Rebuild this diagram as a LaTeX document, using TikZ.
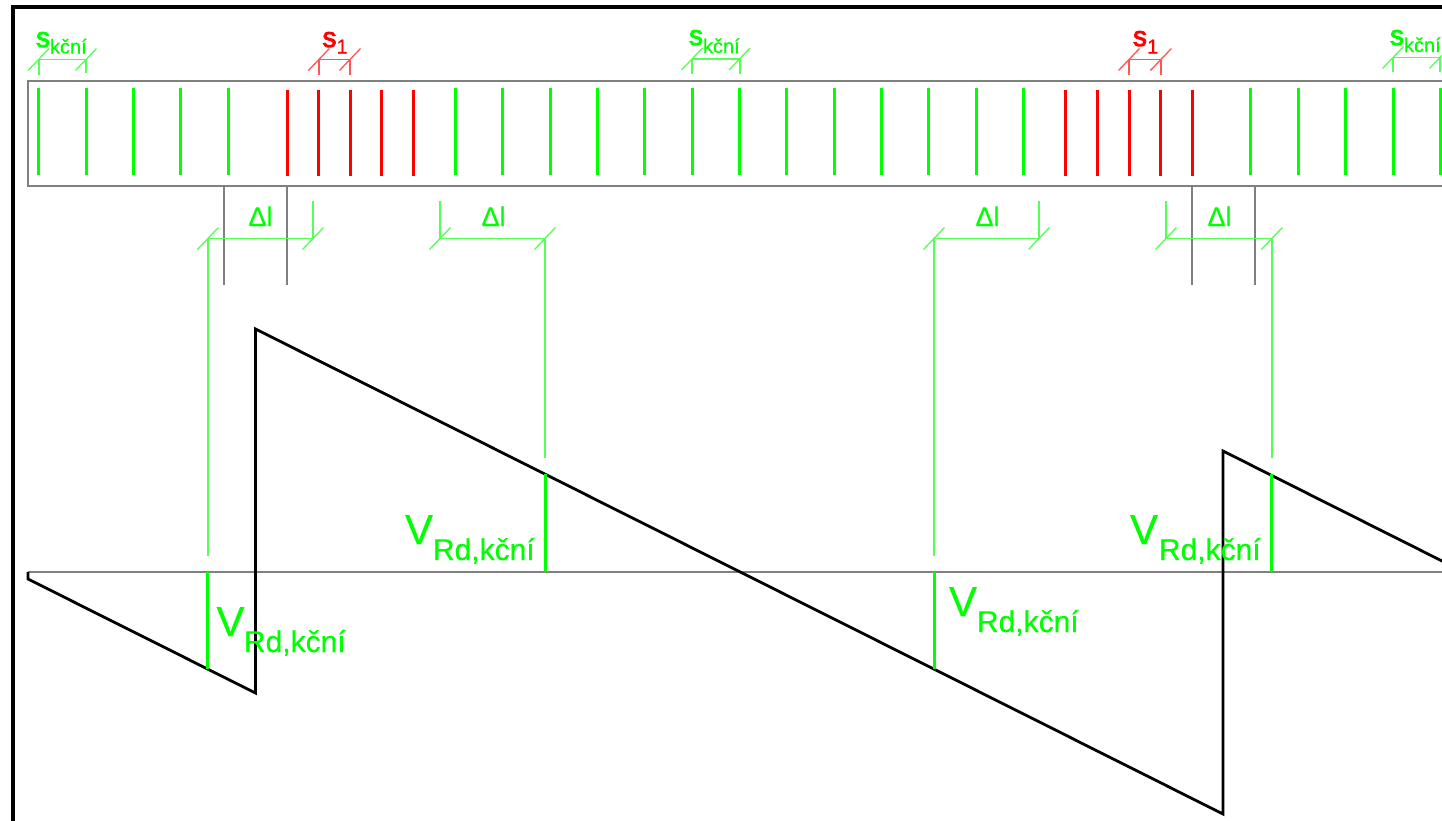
\documentclass[tikz,border=0pt]{standalone}
\usepackage{fontspec}
\setmainfont{Liberation Sans}
\newfontfamily\heavyfont[FakeBold=3]{Liberation Sans}
\newfontfamily\midfont[FakeBold=0.3]{Liberation Sans}
\definecolor{gr}{HTML}{00FF00}
\definecolor{lgr}{HTML}{55FF55}
\definecolor{rd}{HTML}{FF0000}
\definecolor{lrd}{HTML}{FF5555}
\definecolor{gy}{HTML}{808080}
\tikzset{
  frameline/.style={line width=4pt,black},
  outline/.style={line width=1.6pt,gy},
  greystub/.style={line width=1.5pt,gy},
  shear/.style={line width=2.8pt,black,line join=miter},
  stirg/.style={line width=3pt,gr},
  stirr/.style={line width=3pt,rd},
  dimg/.style={line width=1.3pt,lgr},
  dimr/.style={line width=1.3pt,lrd},
  vbar/.style={line width=3pt,gr},
  txt/.style={inner sep=0pt,outer sep=0pt,anchor=base west},
}
\newcommand{\dimgreen}[3]{% x1 x2 y
  \draw[dimg] (#1,#3) -- (#2,#3);
  \draw[dimg] (#1-10.5,#3+11) -- (#1+10.5,#3-11);
  \draw[dimg] (#2-10.5,#3+11) -- (#2+10.5,#3-11);
}
\newcommand{\dimred}[4]{%
  \draw[dimr] (#1,#3) -- (#2,#3);
  \draw[dimr] (#1-10.5,#3+11) -- (#1+10.5,#3-11);
  \draw[dimr] (#2-10.5,#3+11) -- (#2+10.5,#3-11);
  \draw[dimr] (#1,#3) -- (#1,#4);
  \draw[dimr] (#2,#3) -- (#2,#4);
}
\begin{document}
\begin{tikzpicture}[x=1pt,y=-1pt]
\useasboundingbox (0,0) rectangle (1442,820);
\clip (0,0) rectangle (1442,820);
\fill[white] (0,0) rectangle (1442,820);
% frame
\draw[frameline] (1450,7) -- (13,7) -- (13,830);
% beam
\draw[outline] (1450,81) -- (28,81) -- (28,186) -- (1450,186);
% stirrups
\foreach \x in {38.5,86,133.5,180.5,228,455,502.5,550,597,644.5,692,739.5,786.5,834,881,928.5,976,1023,1250.5,1298,1345.5,1393,1440}
  \draw[stirg] (\x,88) -- (\x,175);
\foreach \x in {287,318.5,350,381.5,413,1065.5,1097,1129,1160.5,1192}
  \draw[stirr] (\x,90) -- (\x,176);
% grey stubs
\foreach \x in {224,287,1192,1255}
  \draw[greystub] (\x,186) -- (\x,285);
% top dimensions
\dimgreen{38.5}{86}{59.5}
\draw[dimg] (38.9,59.5) -- (38.9,75) (86,59.5) -- (86,73);
\dimred{318.9}{350}{59.5}{75}
\dimgreen{692}{739.5}{59}
\draw[dimg] (692,59) -- (692,74) (739.9,59) -- (739.9,74);
\dimred{1129}{1160.9}{59.5}{75}
\dimgreen{1393}{1440}{57.5}
\draw[dimg] (1393,57.5) -- (1393,72) (1440,57.5) -- (1440,72);
% delta-l dimensions
\dimgreen{207.9}{313}{238.5}
\draw[dimg] (207.9,238.5) -- (207.9,556) (313,201) -- (313,238.5);
\dimgreen{440}{545}{238.5}
\draw[dimg] (440,201) -- (440,238.5) (545,238.5) -- (545,458);
\dimgreen{934}{1039}{238.5}
\draw[dimg] (934,238.5) -- (934,556) (1039,201) -- (1039,238.5);
\dimgreen{1166}{1271.9}{238.5}
\draw[dimg] (1166,201) -- (1166,238.5) (1271.9,238.5) -- (1271.9,458);
% zero line
\draw[outline] (28,572) -- (1450,572);
% shear diagram
\draw[shear] (28,572) -- (28,579) -- (255.5,693) -- (255.5,329) -- (1223,814) -- (1223,451) -- (1450,565);
% V bars
\draw[vbar] (207.5,572) -- (207.5,669);
\draw[vbar] (545,474) -- (545,572);
\draw[vbar] (934,572) -- (934,669);
\draw[vbar] (1271.5,474) -- (1271.5,572);
% labels
\newcommand{\fsS}{\heavyfont\fontsize{28}{28}\selectfont}
\newcommand{\fsSub}{\midfont\fontsize{20}{20}\selectfont}
\newcommand{\fsD}{\midfont\fontsize{27}{27}\selectfont}
\newcommand{\fsV}{\midfont\fontsize{42}{42}\selectfont}
\newcommand{\fsVs}{\midfont\fontsize{30}{30}\selectfont}
\node[txt,text=gr,font=\fsS] (s1) at (36,47) {s};
\node[txt,text=gr,font=\fsSub] (s1b) at (50,53.5) {kční};
\node[txt,text=rd,font=\fsS] (r1) at (322.5,47) {s};
\node[txt,text=rd,font=\fsSub] (r1b) at (336.5,53.5) {1};
\node[txt,text=gr,font=\fsS] (s2) at (689,45) {s};
\node[txt,text=gr,font=\fsSub] (s2b) at (703,53) {kční};
\node[txt,text=rd,font=\fsS] (r2) at (1133,46) {s};
\node[txt,text=rd,font=\fsSub] (r2b) at (1147.2,53.5) {1};
\node[txt,text=gr,font=\fsS] (s3) at (1390,45) {s};
\node[txt,text=gr,font=\fsSub] (s3b) at (1404,52) {kční};
\node[txt,text=gr,font=\fsD] (d1) at (248.5,226) {Δl};
\node[txt,text=gr,font=\fsD] (d2) at (481.5,226) {Δl};
\node[txt,text=gr,font=\fsD] (d3) at (975.5,226) {Δl};
\node[txt,text=gr,font=\fsD] (d4) at (1207.5,226) {Δl};
\node[txt,text=gr,font=\fsV] (v1) at (216.5,636) {V};
\node[txt,text=gr,font=\fsVs] (v1b) at (244,652) {Rd,kční};
\node[txt,text=gr,font=\fsV] (v2) at (405,544) {V};
\node[txt,text=gr,font=\fsVs] (v2b) at (433,560) {Rd,kční};
\node[txt,text=gr,font=\fsV] (v3) at (949,616) {V};
\node[txt,text=gr,font=\fsVs] (v3b) at (977,632) {Rd,kční};
\node[txt,text=gr,font=\fsV] (v4) at (1130,544) {V};
\node[txt,text=gr,font=\fsVs] (v4b) at (1159,560) {Rd,kční};
\end{tikzpicture}
\end{document}
